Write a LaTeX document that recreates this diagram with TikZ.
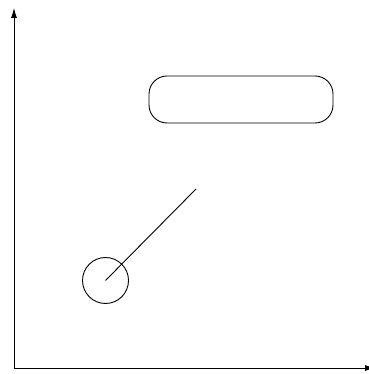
\documentclass[tikz,border=0pt]{standalone}
\usetikzlibrary{calc,arrows.meta}

\begin{document}
\begin{tikzpicture}[x=1pt,y=1pt,line width=0.9pt]
\useasboundingbox (0,0) rectangle (368,374);
\coordinate (O) at (14,6); \coordinate (Y) at (14,366); \coordinate (X) at (375,6);
\draw[-{Latex[length=10pt,width=6pt]}] (O)--(Y);
\draw[-{Latex[length=10pt,width=6pt]}] (O)--(X);
\node[draw,rounded corners=18pt,minimum width=184pt,minimum height=47pt] (box) at (241,274.5) {};
\node[draw,circle,minimum size=46pt,inner sep=0pt] (ball) at (105.5,93.5) {};
\coordinate (T) at (196,185);
\draw (ball.center)--(T);
\end{tikzpicture}
\end{document}
